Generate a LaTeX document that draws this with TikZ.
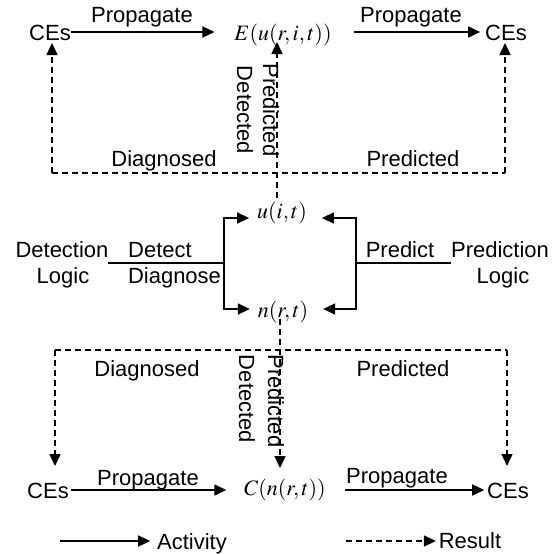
\documentclass[tikz,border=0pt]{standalone}
\usepackage{mathptmx}
\usepackage[no-math]{fontspec}
\setmainfont{Liberation Sans}
\usetikzlibrary{arrows.meta}
\begin{document}
\begin{tikzpicture}[x=1pt,y=-1pt,
  font=\fontsize{22}{26}\selectfont,
  txt/.style={inner sep=0pt,outer sep=0pt,text height=16pt,text depth=0pt},
  plainline/.style={draw,line width=1.5pt},
  dashline/.style={plainline,dash pattern=on 6pt off 4pt},
  act/.style={plainline,-{Triangle[length=12pt,width=11pt]}},
  res/.style={act,dash pattern=on 6pt off 4pt}]
\useasboundingbox (0,0) rectangle (553,554);

% ---- top row
\node[txt] (ceTL) at (50,32) {CEs};
\node[txt] (E) at (283,32) {$E(u(r,i,t))$};
\node[txt] (ceTR) at (506,32) {CEs};
\node[txt] (propTL) at (142,15) {Propagate};
\node[txt] (propTR) at (411,15) {Propagate};
\node[txt] (diagT) at (164,158) {Diagnosed};
\node[txt] (predT) at (413,158) {Predicted};
\node[txt,rotate=-90] (detVT) at (245,110) {Detected};
\node[txt,rotate=-90] (predVT) at (271,110) {Predicted};

% ---- middle
\node[txt] (u) at (282,210) {$u(i,t)$};
\node[txt] (n) at (283,309) {$n(r,t)$};
\node[txt] (detl1) at (62,249) {Detection};
\node[txt] (detl2) at (63,275) {Logic};
\node[txt] (detect) at (160,249) {Detect};
\node[txt] (diagnose) at (174.5,275) {Diagnose};
\node[txt] (predict) at (400,249) {Predict};
\node[txt] (prl1) at (500,249) {Prediction};
\node[txt] (prl2) at (503,275) {Logic};

% ---- bottom
\node[txt] (diagB) at (147,368) {Diagnosed};
\node[txt] (predB) at (403,368) {Predicted};
\node[txt,rotate=-90] (detVB) at (247,399) {Detected};
\node[txt,rotate=-90] (predVB) at (276,401) {Predicted};
\node[txt] (ceBL) at (48,490) {CEs};
\node[txt] (C) at (285,487) {$C(n(r,t))$};
\node[txt] (ceBR) at (508,490) {CEs};
\node[txt] (propBL) at (148,477) {Propagate};
\node[txt] (propBR) at (397,475) {Propagate};

% ---- legend
\node[txt] (actT) at (192,541) {Activity};
\node[txt] (resT) at (470,540) {Result};

% ---- top connectors
\draw[act,shorten >=20pt] (ceTL) -- (E);
\draw[act,shorten <=22pt,shorten >=5pt] (E) -- (ceTR);
\coordinate (tl) at (52,173);
\coordinate (tr) at (505,173);
\coordinate (tm) at (277,173);
\draw[dashline] (tl) -- (tr);
\draw[res,shorten >=3pt] (tl) -- (tl |- ceTL.south);
\draw[res,shorten >=3pt] (tr) -- (tr |- ceTR.south);
\draw[res,shorten <=4pt,shorten >=2pt] (u.north -| tm) -- (E.south -| tm);

% ---- middle connectors
\coordinate (lbm) at (224,263);
\coordinate (rbm) at (356,263);
\draw[plainline] (detl1.east |- lbm) -- (lbm);
\draw[act,shorten >=8pt] (lbm) |- (u.base west);
\draw[act,shorten >=8pt] (lbm) |- (n.west);
\draw[plainline] (rbm) -- (prl1.west |- rbm);
\draw[act,shorten >=15pt] (rbm) |- (u.base east);
\draw[act,shorten >=15pt] (rbm) |- (n.east);

% ---- bottom connectors
\coordinate (bl) at (55,350);
\coordinate (br) at (507,350);
\coordinate (bm) at (280,350);
\draw[dashline] (bl) -- (br);
\draw[res,shorten >=16pt] (bl) -- (bl |- ceBL.north);
\draw[res,shorten >=16pt] (br) -- (br |- ceBR.north);
\draw[res,shorten <=2pt,shorten >=11pt] (n.south -| bm) -- (C.north -| bm);
\draw[act,shorten <=2pt,shorten >=18pt] (ceBL.east) -- (C.west |- ceBL.east);
\draw[act,shorten <=19pt,shorten >=3pt] (C.east |- ceBR.west) -- (ceBR.west);

% ---- legend connectors
\coordinate (lgA) at (60,541);
\draw[act,shorten >=7pt] (lgA) -- (actT.west |- lgA);
\coordinate (lgR) at (346,541);
\draw[res,shorten >=3pt] (lgR) -- (resT.west |- lgR);
\end{tikzpicture}
\end{document}
